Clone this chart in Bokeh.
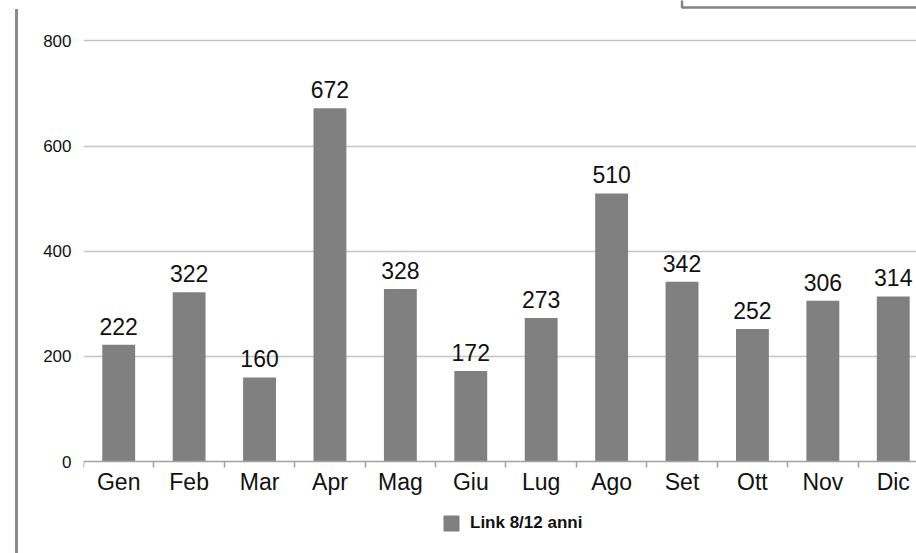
from bokeh.plotting import figure
from bokeh.models import (Range1d, FixedTicker, Legend, LegendItem, Div, BoxAnnotation,
                          ColumnDataSource, LabelSet)
from bokeh.layouts import row
from bokeh.core.properties import value
from bokeh.embed import file_html
from bokeh.resources import INLINE

months = ["Gen", "Feb", "Mar", "Apr", "Mag", "Giu", "Lug", "Ago", "Set", "Ott", "Nov", "Dic"]
links = [222, 322, 160, 672, 328, 172, 273, 510, 342, 252, 306, 314]
y_ticks = [0, 200, 400, 600, 800]
series_name = "Link 8/12 anni"

FONT = "Liberation Sans"
BAR = "#808080"

centers = [i + 0.5 for i in range(len(months))]
bounds = [i for i in range(len(months) + 1)]
src = ColumnDataSource(dict(x=centers, v=links, lab=[str(v) for v in links]))

p = figure(width=898, height=553, output_backend="svg", toolbar_location=None,
           x_range=Range1d(0, 11.83), y_range=Range1d(-175, 877),
           min_border_left=65, min_border_right=0, min_border_top=0, min_border_bottom=0)
p.outline_line_color = None
p.background_fill_color = "white"
p.border_fill_color = "white"

bars = p.vbar(x="x", top="v", width=0.467, source=src, fill_color=BAR, line_color=None)
p.add_layout(LabelSet(x="x", y="v", text="lab", source=src, text_align="center",
                      text_baseline="alphabetic", y_offset=10, text_font=value(FONT),
                      text_font_size="23px", text_color="#111111"))

# x axis (drawn at y = 0 inside the frame)
xa = p.xaxis[0]
xa.fixed_location = 0
xa.ticker = FixedTicker(ticks=centers, minor_ticks=bounds)
xa.major_label_overrides = {c: m for c, m in zip(centers, months)}
xa.major_tick_line_color = None
xa.major_tick_out = 0
xa.major_tick_in = 0
xa.minor_tick_line_color = "#a0a0a0"
xa.minor_tick_line_width = 1.5
xa.minor_tick_out = 6
xa.minor_tick_in = 0
xa.axis_line_color = "#a0a0a0"
xa.axis_line_width = 1.5
xa.major_label_text_font = FONT
xa.major_label_text_font_size = "23px"
xa.major_label_text_color = "#111111"
xa.major_label_standoff = 1

# y axis
ya = p.yaxis[0]
ya.ticker = FixedTicker(ticks=y_ticks)
ya.axis_line_color = None
ya.major_tick_line_color = None
ya.minor_tick_line_color = None
ya.major_tick_out = 0
ya.major_tick_in = 0
ya.major_label_standoff = 12
ya.major_label_text_font = FONT
ya.major_label_text_font_size = "17px"
ya.major_label_text_color = "#111111"

p.xgrid.visible = False
p.ygrid.ticker = FixedTicker(ticks=y_ticks[1:])
p.ygrid.grid_line_color = "#c4c4c4"
p.ygrid.grid_line_width = 1.3

# top-right frame edge (partially visible box)
p.add_layout(BoxAnnotation(left=8.5, right=14, bottom=863.5, top=2000,
                           fill_color=None, line_color="#828282", line_alpha=1.0,
                           line_width=2.5))

legend = Legend(items=[LegendItem(label=series_name, renderers=[bars])],
                location=(358, 20), orientation="horizontal",
                border_line_color=None, background_fill_alpha=0, padding=0, margin=0,
                glyph_width=20, glyph_height=20, label_standoff=9,
                label_text_font=FONT, label_text_font_size="17px",
                label_text_font_style="bold", label_text_color="#111111")
p.add_layout(legend)

left_line = Div(width=18, height=553, margin=0,
                text='<div style="margin-left:15px;margin-top:9px;width:3px;height:544px;background:#8a8a8a"></div>')

layout = row(left_line, p)
open("out.html", "w").write(file_html(layout, INLINE))
